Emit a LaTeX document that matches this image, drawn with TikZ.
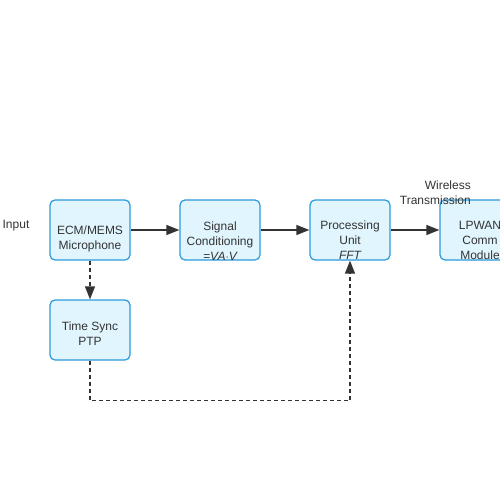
\documentclass[tikz,border=0pt]{standalone}
\usepackage{fontspec}
\setmainfont{Liberation Sans}
\usetikzlibrary{arrows.meta}

\definecolor{boxfill}{HTML}{E1F5FE}
\definecolor{boxline}{HTML}{2B9ADB}
\definecolor{ink}{HTML}{333333}

\begin{document}
\begin{tikzpicture}[x=1pt,y=-1pt]

        \tikzstyle{block} = [draw=boxline, fill=boxfill, line width=1.2pt, rectangle, rounded corners=5pt, minimum height=60pt, minimum width=80pt, inner sep=0pt]
        \tikzstyle{txt} = [text=ink, align=center, inner sep=0pt, font=\fontsize{12}{15}\selectfont]
        \tikzstyle{link} = [draw=ink, line width=1.3pt, -{Triangle[length=13pt,width=10pt]}]
        \tikzstyle{sync} = [link, dash pattern=on 4pt off 3pt]

        \useasboundingbox (0,0) rectangle (500,500);

        \node[block] (mic) at (90,230) {};
        \node[block] (sc)  at (220,230) {};
        \node[block] (pu)  at (350,230) {};
        \node[block] (lp)  at (480,230) {};
        \node[block] (ts)  at (90,330) {};

        \node[txt] (micT) at (90,238.5)  {ECM/MEMS\\Microphone};
        \node[txt] (scT)  at (220,241)   {Signal\\Conditioning\\\itshape =VA$\cdot$V};
        \node[txt] (puT)  at (350,240.5) {Processing\\Unit\\\itshape FFT};
        \node[txt] (lpT)  at (480,240)   {LPWAN\\Comm\\Module};
        \node[txt] (tsT)  at (90,333.5)  {Time Sync\\PTP};

        \node[txt] (inp) at (16,226) {Input};
        \node[txt, align=right, anchor=east] (wl) at (471,193) {Wireless\\Transmission};

        \draw[link] (mic) -- (sc);
        \draw[link] (sc) -- (pu);
        \draw[link] (pu) -- (lp);
        \draw[sync] (mic) -- (ts);
        \draw[sync] (ts.south) -- ++(0,40) -| (pu.south);
    \end{tikzpicture}
\end{document}
